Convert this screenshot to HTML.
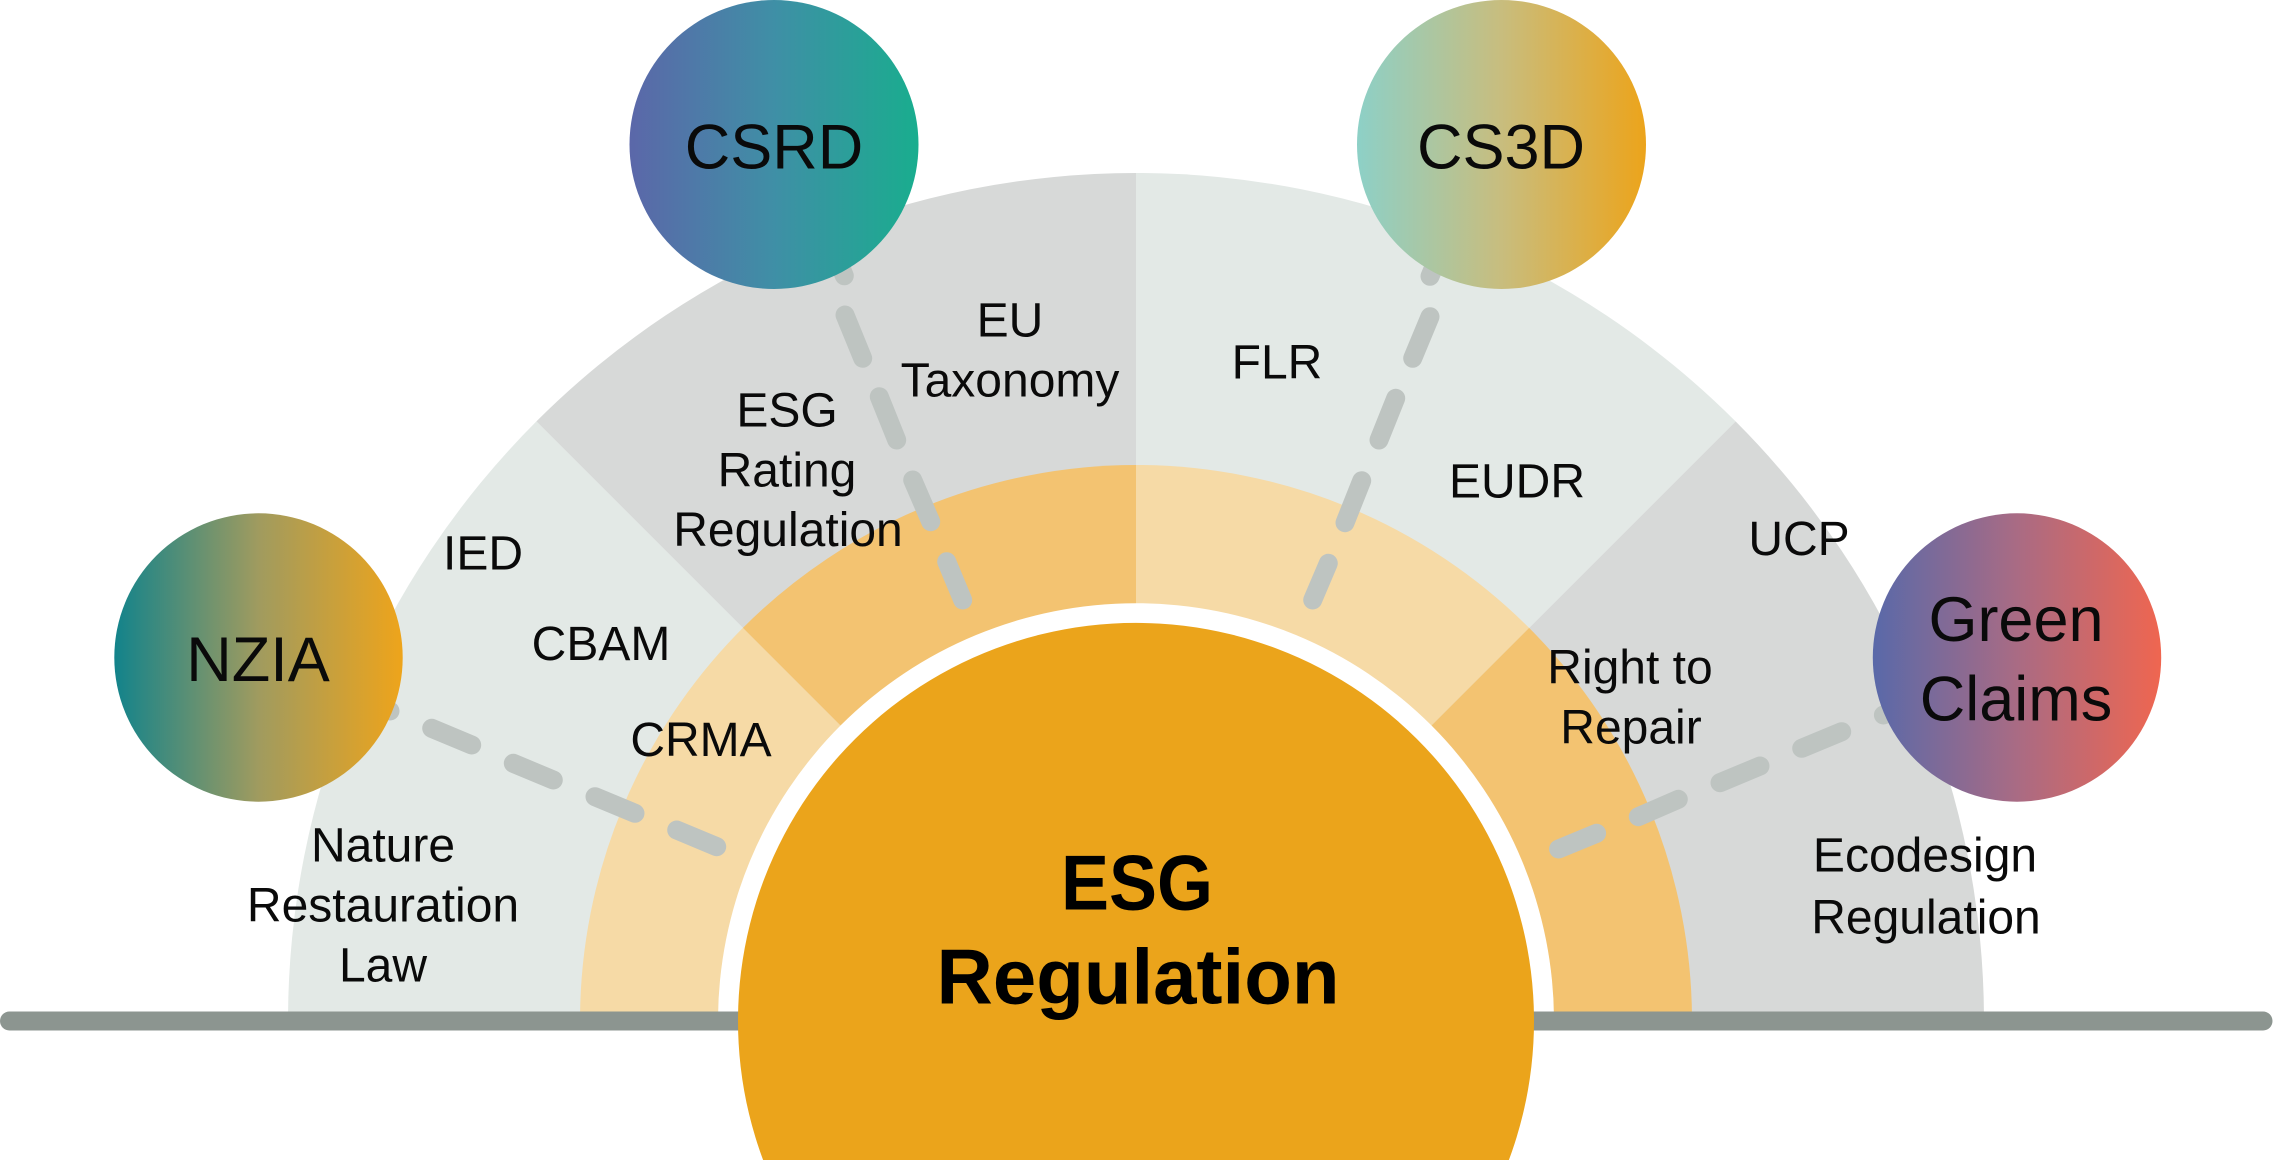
<!DOCTYPE html>
<html>
<head>
<meta charset="utf-8">
<style>
  html,body{margin:0;padding:0;background:#ffffff;}
  html,body{width:2273px;height:1160px;overflow:hidden;}
  svg{display:block;overflow:hidden;}
  .lbl{font-family:"Liberation Sans",Arial,sans-serif;font-size:48px;fill:#0a0a0a;text-anchor:middle;}
  .node{font-family:"Liberation Sans",Arial,sans-serif;font-size:63px;fill:#0a0a0a;text-anchor:middle;}
  .big{font-family:"Liberation Sans",Arial,sans-serif;font-size:78px;font-weight:bold;fill:#000;text-anchor:middle;}
</style>
</head>
<body>
<svg width="2273" height="1160" viewBox="0 0 2273 1160" xmlns="http://www.w3.org/2000/svg">
  <defs>
    <linearGradient id="gCSRD" x1="0" y1="0" x2="1" y2="0">
      <stop offset="0" stop-color="#5b67a9"/>
      <stop offset="0.5" stop-color="#3f8fa6"/>
      <stop offset="1" stop-color="#19ad8e"/>
    </linearGradient>
    <linearGradient id="gCS3D" x1="0" y1="0" x2="1" y2="0">
      <stop offset="0" stop-color="#8dd0c7"/>
      <stop offset="0.5" stop-color="#c8bd7e"/>
      <stop offset="1" stop-color="#eca41b"/>
    </linearGradient>
    <linearGradient id="gNZIA" x1="0" y1="0" x2="1" y2="0">
      <stop offset="0" stop-color="#12838b"/>
      <stop offset="0.5" stop-color="#a09b5f"/>
      <stop offset="1" stop-color="#eea41b"/>
    </linearGradient>
    <linearGradient id="gGC" x1="0" y1="0" x2="1" y2="0">
      <stop offset="0" stop-color="#5969a9"/>
      <stop offset="0.5" stop-color="#a96b84"/>
      <stop offset="1" stop-color="#ef6650"/>
    </linearGradient>
  </defs>

  <!-- Outer ring sectors (R=848) -->
  <path d="M1136 1021 L288 1021 A848 848 0 0 1 536.4 421.4 Z" fill="#e3e9e6"/>
  <path d="M1136 1021 L536.4 421.4 A848 848 0 0 1 1136 173 Z" fill="#d7d9d8"/>
  <path d="M1136 1021 L1136 173 A848 848 0 0 1 1735.6 421.4 Z" fill="#e3e9e6"/>
  <path d="M1136 1021 L1735.6 421.4 A848 848 0 0 1 1984 1021 Z" fill="#d7d9d8"/>

  <!-- Middle ring sectors (R=556) -->
  <path d="M1136 1021 L580 1021 A556 556 0 0 1 742.9 627.9 Z" fill="#f6daa6"/>
  <path d="M1136 1021 L742.9 627.9 A556 556 0 0 1 1136 465 Z" fill="#f3c371"/>
  <path d="M1136 1021 L1136 465 A556 556 0 0 1 1529.1 627.9 Z" fill="#f6daa6"/>
  <path d="M1136 1021 L1529.1 627.9 A556 556 0 0 1 1692 1021 Z" fill="#f3c371"/>

  <!-- White gap (upper half only) -->
  <path d="M718 1021 A418 418 0 0 1 1554 1021 Z" fill="#ffffff"/>

  <!-- Baseline -->
  <line x1="9.5" y1="1021" x2="2263" y2="1021" stroke="#8c9590" stroke-width="19" stroke-linecap="round"/>

  <!-- Big centre circle, cut at frame bottom -->
  <path d="M763.1 1160 A398 398 0 1 1 1508.9 1160 Z" fill="#eba41b"/>

  <!-- Dashed connectors -->
  <g stroke="#bec4c1" stroke-width="19" stroke-linecap="round" fill="none">
    <!-- CSRD -->
    <line x1="826.5" y1="232.8" x2="844.3" y2="275.8"/>
    <line x1="845" y1="315" x2="862.7" y2="358.3"/>
    <line x1="879.3" y1="396.7" x2="896.7" y2="440"/>
    <line x1="912.7" y1="480" x2="930.7" y2="521.7"/>
    <line x1="946.7" y1="561.7" x2="962.7" y2="600"/>
    <!-- CS3D -->
    <line x1="1447.3" y1="234.7" x2="1430" y2="276.3"/>
    <line x1="1430" y1="316.7" x2="1412.7" y2="358.3"/>
    <line x1="1395.7" y1="398.3" x2="1379" y2="440"/>
    <line x1="1361.7" y1="480.7" x2="1345" y2="522.7"/>
    <line x1="1328.3" y1="563.3" x2="1312.7" y2="600"/>
    <!-- NZIA -->
    <line x1="350" y1="694.4" x2="390" y2="711"/>
    <line x1="431.7" y1="728.3" x2="471.7" y2="745"/>
    <line x1="513.3" y1="763.3" x2="553.3" y2="780"/>
    <line x1="595" y1="796.7" x2="635" y2="813.3"/>
    <line x1="676.7" y1="830" x2="716.7" y2="846.7"/>
    <!-- Green Claims -->
    <line x1="1923.4" y1="698.2" x2="1883.4" y2="715"/>
    <line x1="1841.7" y1="731.7" x2="1801.7" y2="748.3"/>
    <line x1="1760" y1="766" x2="1720" y2="782.7"/>
    <line x1="1678.3" y1="799.3" x2="1638.3" y2="816.7"/>
    <line x1="1596.6" y1="833.3" x2="1558.6" y2="849"/>
  </g>

  <!-- Labels -->
  <text class="lbl" x="1010" y="336.7">EU</text>
  <text class="lbl" x="1010" y="396.7">Taxonomy</text>

  <text class="lbl" x="787" y="426.7">ESG</text>
  <text class="lbl" x="787" y="486.7">Rating</text>
  <text class="lbl" x="788" y="546">Regulation</text>

  <text class="lbl" x="483" y="569.3">IED</text>
  <text class="lbl" x="601" y="660">CBAM</text>
  <text class="lbl" x="701" y="756">CRMA</text>

  <text class="lbl" x="383" y="861.7">Nature</text>
  <text class="lbl" x="383" y="921.7">Restauration</text>
  <text class="lbl" x="383" y="981.7">Law</text>

  <text class="lbl" x="1277" y="378.3">FLR</text>
  <text class="lbl" x="1517" y="497.3">EUDR</text>
  <text class="lbl" x="1799" y="555">UCP</text>

  <text class="lbl" x="1630" y="683.3">Right to</text>
  <text class="lbl" x="1631" y="743.3">Repair</text>

  <text class="lbl" x="1925" y="871.7">Ecodesign</text>
  <text class="lbl" x="1926" y="933.3">Regulation</text>

  <!-- Centre title -->
  <text class="big" x="1137" y="909.3" textLength="152" lengthAdjust="spacingAndGlyphs">ESG</text>
  <text class="big" x="1138" y="1003.3">Regulation</text>

  <!-- Nodes -->
  <circle cx="774" cy="144.5" r="144.5" fill="url(#gCSRD)"/>
  <text class="node" x="774" y="168.3">CSRD</text>

  <circle cx="1501.5" cy="144.5" r="144.5" fill="url(#gCS3D)"/>
  <text class="node" x="1501" y="168.3">CS3D</text>

  <circle cx="258.5" cy="657.5" r="144.2" fill="url(#gNZIA)"/>
  <text class="node" x="258" y="681">NZIA</text>

  <circle cx="2017" cy="657.5" r="144.2" fill="url(#gGC)"/>
  <text class="node" x="2016" y="641">Green</text>
  <text class="node" x="2016" y="720.7">Claims</text>
</svg>
</body>
</html>
